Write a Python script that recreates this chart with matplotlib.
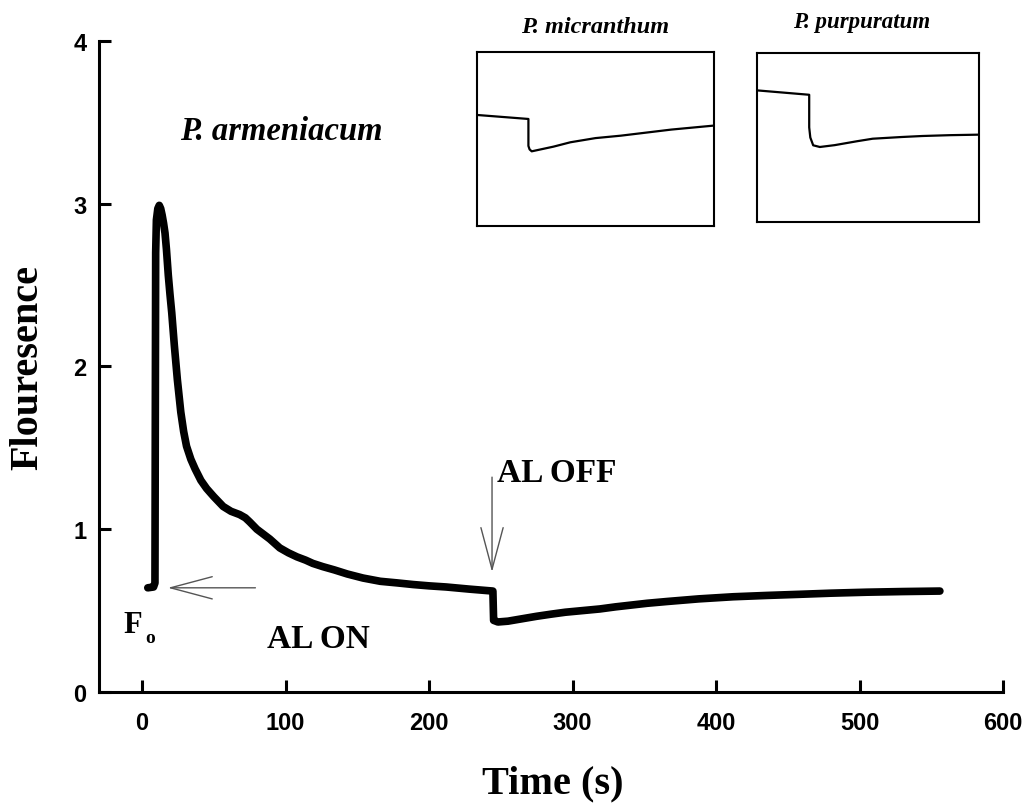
import numpy as np
import matplotlib
matplotlib.use('Agg')
import matplotlib.pyplot as plt

# main trace: P. armeniacum
time_s = [4, 8, 9, 9.2, 9.5, 10, 11, 12, 13, 14, 15, 16, 17, 18.3, 19.5, 20.7, 22.5, 24.6, 27, 29,
          31, 34, 37, 41, 45, 50, 56.5, 62, 68, 72, 75, 80, 89, 96, 102, 108, 114, 119, 126, 134,
          143, 154, 166, 178, 189, 200, 212, 228, 244.5,
          245, 248, 255, 265, 275, 285, 295, 307, 319, 330, 340, 352, 366, 388, 412, 435, 458,
          480, 505, 530, 556]
fluor = [0.64, 0.645, 0.67, 1.5, 2.7, 2.9, 2.97, 2.99, 2.97, 2.93, 2.88, 2.82, 2.72, 2.56, 2.44, 2.33,
         2.13, 1.92, 1.72, 1.60, 1.51, 1.43, 1.37, 1.30, 1.25, 1.20, 1.14, 1.11, 1.09, 1.07, 1.045,
         1.0, 0.94, 0.885, 0.855, 0.83, 0.81, 0.79, 0.77, 0.75, 0.725, 0.70, 0.68, 0.67, 0.66,
         0.652, 0.645, 0.632, 0.62,
         0.44, 0.43, 0.435, 0.45, 0.465, 0.478, 0.49, 0.50, 0.51, 0.523, 0.533, 0.545, 0.556,
         0.572, 0.585, 0.593, 0.60, 0.607, 0.613, 0.617, 0.62]

# insets (relative units)
mic_x = [0, 0.217, 0.217, 0.222, 0.231, 0.323, 0.394, 0.5, 0.607, 0.82, 1.0]
mic_y = [0.638, 0.615, 0.46, 0.44, 0.429, 0.456, 0.481, 0.505, 0.519, 0.554, 0.577]
pur_x = [0, 0.235, 0.235, 0.240, 0.253, 0.283, 0.35, 0.45, 0.521, 0.65, 0.744, 0.87, 1.0]
pur_y = [0.779, 0.753, 0.56, 0.50, 0.454, 0.444, 0.455, 0.478, 0.493, 0.503, 0.509, 0.514, 0.517]

serif = 'Liberation Serif'
sans = 'Liberation Sans'

fig = plt.figure(figsize=(10.28, 8.04), dpi=100)
ax = fig.add_axes([0.0963, 0.1381, 0.8794, 0.8097])

ax.plot(time_s, fluor, color='black', lw=5.5, solid_capstyle='round', solid_joinstyle='round')

ax.set_xlim(-30, 600)
ax.set_ylim(0, 4)
ax.set_xticks(np.arange(0, 601, 100))
ax.set_yticks(np.arange(0, 5, 1))
for s in ['top', 'right']:
    ax.spines[s].set_visible(False)
for s in ['left', 'bottom']:
    ax.spines[s].set_linewidth(2.2)
ax.tick_params(direction='in', length=8.5, width=2.2, labelsize=17)
ax.tick_params(axis='x', pad=14)
ax.tick_params(axis='y', pad=9)
for lab in ax.get_xticklabels() + ax.get_yticklabels():
    lab.set_fontfamily(sans)
    lab.set_fontweight('bold')

fig.text(0.027, 0.5435, 'Flouresence', rotation=90, ha='center', va='center',
         family=serif, weight='bold', fontsize=29)
fig.text(0.538, 0.025, 'Time (s)', ha='center', va='center',
         family=serif, weight='bold', fontsize=29)

ax.text(26.5, 3.40, 'P. armeniacum', family=serif, weight='bold', style='italic',
        fontsize=23.5, va='baseline')
ax.text(247.4, 1.296, 'AL OFF', family=serif, weight='bold', fontsize=24, va='baseline')
ax.text(87, 0.276, 'AL ON', family=serif, weight='bold', fontsize=24, va='baseline')
ax.text(-13.2, 0.369, 'F', family=serif, weight='bold', fontsize=22, va='baseline')
ax.text(2.1, 0.307, 'o', family=serif, weight='bold', fontsize=14, va='baseline')

arrow = dict(arrowstyle='->,head_length=3.0,head_width=0.8', color='#555555', lw=1.0,
             mutation_scale=10, shrinkA=0, shrinkB=0)
ax.annotate('', xy=(18, 0.64), xytext=(79, 0.64), arrowprops=arrow)
ax.annotate('', xy=(243.9, 0.737), xytext=(243.9, 1.32), arrowprops=arrow)

# insets
ax1 = fig.add_axes([0.464, 0.7177, 0.2305, 0.2164])
ax1.plot(mic_x, mic_y, color='black', lw=1.6)
ax2 = fig.add_axes([0.7364, 0.7226, 0.216, 0.2102])
ax2.plot(pur_x, pur_y, color='black', lw=1.6)
for a in [ax1, ax2]:
    a.set_xlim(0, 1)
    a.set_ylim(0, 1)
    a.set_xticks([])
    a.set_yticks([])
    for s in a.spines.values():
        s.set_linewidth(1.5)
ax1.text(0.5, 1.115, 'P. micranthum', transform=ax1.transAxes, ha='center', va='baseline',
         family=serif, weight='bold', style='italic', fontsize=17.5)
ax2.text(0.47, 1.154, 'P. purpuratum', transform=ax2.transAxes, ha='center', va='baseline',
         family=serif, weight='bold', style='italic', fontsize=16.5)

fig.savefig('out.png', dpi=100)
